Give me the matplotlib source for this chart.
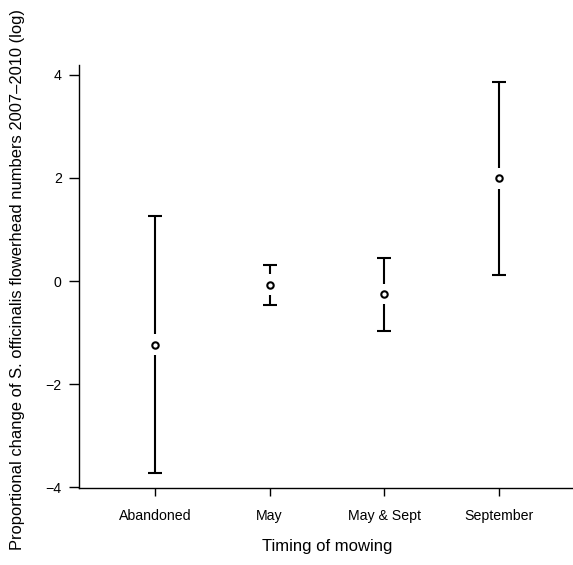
import matplotlib
matplotlib.use("Agg")
import matplotlib.pyplot as plt
import numpy as np

plt.rcParams['font.family'] = ['Liberation Sans', 'DejaVu Sans']

categories = ["Abandoned", "May", "May & Sept", "September"]
means = [-1.23, -0.07, -0.25, 1.99]
upper = [1.27, 0.31, 0.44, 3.87]
lower = [-3.71, -0.46, -0.97, 0.12]
yticks = [-4, -2, 0, 2, 4]

W, H = 573, 565
fig = plt.figure(figsize=(W / 100, H / 100), dpi=100)
left_px, right_px, top_px, bottom_px = 79.3, 574.7, 65, 488
ax = fig.add_axes([left_px / W, 1 - bottom_px / H,
                   (right_px - left_px) / W, (bottom_px - top_px) / H])

x = np.arange(1, len(categories) + 1)
gap = 0.2  # gap between point and error line (data units)
lw = 1.5
for xi, m, u, l in zip(x, means, upper, lower):
    ax.plot([xi, xi], [m + gap, u], color='black', lw=lw, solid_capstyle='butt')
    ax.plot([xi, xi], [m - gap, l], color='black', lw=lw, solid_capstyle='butt')
ax.plot(x, upper, ls='none', marker='_', ms=10, mew=lw, color='black')
ax.plot(x, lower, ls='none', marker='_', ms=10, mew=lw, color='black')
ax.plot(x, means, ls='none', marker='o', ms=4.6, mew=1.5, mfc='white', mec='black')

ax.set_xlim(0.34, 4.66)
ax.set_ylim(-4.01, 4.19)
ax.set_xticks(x)
ax.set_xticklabels(categories, fontsize=10.2)
ax.set_yticks(yticks)
ax.set_yticklabels([str(v).replace('-', '\u2212') for v in yticks], fontsize=10.2)

for s in ['top', 'right']:
    ax.spines[s].set_visible(False)
for s in ['left', 'bottom']:
    ax.spines[s].set_linewidth(1.0)
ax.tick_params(axis='y', direction='out', length=7.2, width=1.0, pad=5.5)
ax.tick_params(axis='x', direction='out', length=5.8, width=1.0, pad=9)

fig.text(18 / W, 1 - 280 / H,
         "Proportional change of S. officinalis flowerhead numbers 2007\u20132010 (log)",
         rotation=90, ha='center', va='center', fontsize=11.85)
fig.text(327 / W, 1 - 547 / H, "Timing of mowing", ha='center', va='center', fontsize=12)

fig.savefig("out.png", dpi=100)
